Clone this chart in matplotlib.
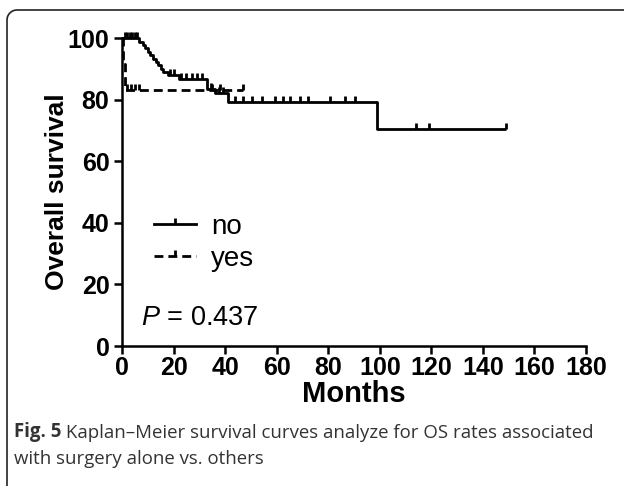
import numpy as np
import matplotlib
matplotlib.use("Agg")
import matplotlib.pyplot as plt
from matplotlib.path import Path
from matplotlib.lines import Line2D
import matplotlib.patches as mpatches

# Kaplan-Meier step data (months, survival %)
no_times = [0, 6.5, 8, 9, 10, 11, 12, 13, 14, 15, 16, 18, 22, 33, 36, 41, 99]
no_surv = [100, 98.9, 97.8, 96.7, 95.6, 94.5, 93.4, 92.3, 91.2, 90.1, 89.0, 88.0, 86.9, 83.5, 82.2, 79.2, 70.4]
no_end = 149
no_censor = [1, 2, 3, 4, 5, 6, 18.5, 20, 23, 25, 27, 29, 31, 34.5, 37.5, 39,
             44, 47, 50.5, 54.5, 59.5, 62.5, 65, 69, 72, 80.5, 86.5, 90.5, 114, 119, 149]

yes_times = [0, 0.5, 1.0]
yes_surv = [100, 91.7, 83.3]
yes_end = 47
yes_censor = [2, 3.5, 5, 6.5, 35, 38, 47]

labels = ["no", "yes"]
x_ticks = list(range(0, 181, 20))
y_ticks = list(range(0, 101, 20))
p_text = "$\\it{P}$ = 0.437"
caption_bold = "Fig. 5"
caption_1 = " Kaplan\u2013Meier survival curves analyze for OS rates associated"
caption_2 = "with surgery alone vs. others"

plt.rcParams['font.family'] = ['Liberation Sans', 'DejaVu Sans']
plt.rcParams['mathtext.fontset'] = 'custom'
plt.rcParams['mathtext.it'] = 'Liberation Sans:italic'
plt.rcParams['mathtext.rm'] = 'Liberation Sans'


def step_xy(times, surv, end):
    xs = list(times) + [end]
    ys = list(surv) + [surv[-1]]
    return xs, ys


def surv_at(times, surv, t):
    idx = np.searchsorted(times, t, side='right') - 1
    return np.array(surv)[idx]


# upward censor tick marker
tick_marker = Path([(0, 0), (0, 1)], [Path.MOVETO, Path.LINETO])

fig = plt.figure(figsize=(6.24, 4.86), dpi=100)
ax = fig.add_axes([122 / 624, 1 - 346 / 486, 464 / 624, 307.7 / 486])

lw = 2.0
ms = 9
xs, ys = step_xy(no_times, no_surv, no_end)
ax.step(xs, ys, where='post', color='black', lw=lw, solid_capstyle='butt', clip_on=False)
ax.plot(no_censor, surv_at(no_times, no_surv, no_censor), ls='none', marker=tick_marker,
        ms=ms, mew=lw, color='black', clip_on=False)

xs, ys = step_xy(yes_times, yes_surv, yes_end)
ln, = ax.step(xs, ys, where='post', color='black', lw=lw, clip_on=False)
ln.set_dashes([3.2, 1.8])
ax.plot(yes_censor, surv_at(yes_times, yes_surv, yes_censor), ls='none', marker=tick_marker,
        ms=ms, mew=lw, color='black', clip_on=False)

h_no = Line2D([], [], color='black', lw=lw, marker=tick_marker, ms=ms, mew=lw)
h_yes = Line2D([], [], color='black', lw=lw, dashes=[3.2, 1.8], marker=tick_marker, ms=ms, mew=lw)
ax.legend([h_no, h_yes], labels, loc='center left', bbox_to_anchor=(0.07, 0.335),
          frameon=False, fontsize=20, handlelength=1.5, handletextpad=0.55,
          labelspacing=0.2, borderpad=0, borderaxespad=0, numpoints=1)

ax.text(0.04, 0.09, p_text, transform=ax.transAxes, fontsize=19.5, va='center', ha='left')

ax.set_xlim(0, 180)
ax.set_ylim(0, 100)
ax.set_xticks(x_ticks)
ax.set_yticks(y_ticks)
for s in ['top', 'right']:
    ax.spines[s].set_visible(False)
for s in ['left', 'bottom']:
    ax.spines[s].set_linewidth(1.8)
ax.tick_params(width=1.8, length=6, labelsize=18)
ax.tick_params(axis='x', pad=1)
ax.tick_params(axis='y', pad=3)
for lab in ax.get_xticklabels() + ax.get_yticklabels():
    lab.set_fontweight('bold')
ax.set_xlabel("Months", fontsize=21, fontweight='bold', labelpad=0)
ax.set_ylabel("Overall survival", fontsize=19, fontweight='bold', labelpad=-1)

# caption
cap_font = ['Open Sans', 'DejaVu Sans']
t1 = fig.text(14 / 624, 1 - 437 / 486, caption_bold, fontsize=13.4, fontweight='bold',
              family=cap_font, color='#333333', va='baseline')
ax.annotate(caption_1, xy=(1, 0), xycoords=t1, va='bottom', fontsize=13.4, family=cap_font,
            color='#333333', annotation_clip=False)
fig.text(14 / 624, 1 - 464 / 486, caption_2, fontsize=13.4, family=cap_font,
         color='#333333', va='baseline')

# rounded frame, cut off at right and bottom
r = 10
ang = np.linspace(np.pi, np.pi / 2, 12)
cx, cy = 7 + r, 476 - r
verts = [(7, -5)] + [(cx + r * np.cos(a), cy + r * np.sin(a)) for a in ang] + [(630, 476)]
frame = mpatches.PathPatch(Path(verts), fill=False, lw=1.2, edgecolor='#222222', transform=None)
fig.patches.append(frame)

fig.savefig("out.png", dpi=100)
